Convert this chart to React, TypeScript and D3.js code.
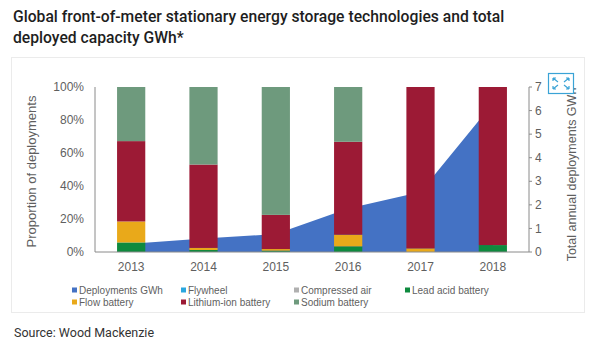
import React from "react";
import * as d3 from "d3";

// data
const years = ["2013", "2014", "2015", "2016", "2017", "2018"];
const deploymentsGWh = [0.35, 0.57, 0.76, 1.85, 2.55, 6.3];
const leadAcid = [5.8, 1.2, 0.8, 3.4, 0, 4.2];
const flowBattery = [12.7, 1.3, 1.0, 7.1, 2.2, 0];
const flywheel = [0, 0, 0, 0, 0, 0];
const compressedAir = [0, 0, 0, 0, 0, 0];
const lithiumIon = [48.7, 50.5, 20.7, 56.3, 97.8, 95.8];
const sodium = [32.8, 47, 77.5, 33.2, 0, 0];

const pctTicks = [0, 20, 40, 60, 80, 100];
const gwhTicks = [0, 1, 2, 3, 4, 5, 6, 7];

const seriesKeys = ["lead", "flow", "flywheel", "compressed", "liion", "sodium"];
const colors: Record<string, string> = {
  deployments: "#4472c4",
  lead: "#0e8a3e",
  flow: "#e9a91a",
  flywheel: "#2aa7df",
  compressed: "#b0b0b0",
  liion: "#9c1a35",
  sodium: "#6e9a7d",
};

const legendItems = [
  { label: "Deployments GWh", key: "deployments" },
  { label: "Flywheel", key: "flywheel" },
  { label: "Compressed air", key: "compressed" },
  { label: "Lead acid battery", key: "lead" },
  { label: "Flow battery", key: "flow" },
  { label: "Lithium-ion battery", key: "liion" },
  { label: "Sodium battery", key: "sodium" },
];

export default function App() {
  const left = 95, right = 529, top = 87, bottom = 252;
  const chartFont = "'Liberation Sans', Arial, sans-serif";
  const axisColor = "#8a8a8a";
  const textColor = "#5f5f5f";

  const x = d3.scaleBand<string>().domain(years).range([left, right])
    .paddingInner(0.61).paddingOuter(0.305);
  const yPct = d3.scaleLinear().domain([0, 100]).range([bottom, top]);
  const yGwh = d3.scaleLinear().domain([0, 7]).range([bottom, top]);

  const rows = years.map((y, i) => ({
    year: y,
    lead: leadAcid[i],
    flow: flowBattery[i],
    flywheel: flywheel[i],
    compressed: compressedAir[i],
    liion: lithiumIon[i],
    sodium: sodium[i],
  }));
  const stacked = d3.stack<any>().keys(seriesKeys)(rows);

  const cx = (y: string) => x(y)! + x.bandwidth() / 2;
  const area = d3.area<number>()
    .x((_, i) => cx(years[i]))
    .y0(yGwh(0))
    .y1((d) => yGwh(d));

  const legendCols = [72, 181, 294, 405];
  const legendRows = [290, 302];

  return (
    <div style={{ position: "absolute", left: 0, top: 0 }}>
      <svg width={600} height={350} style={{ display: "block", background: "#fff" }}>
        <text x={13} y={22} fontFamily="Roboto, sans-serif" fontWeight={500} fontSize={15.7} fill="#1e1e1e">
          Global front-of-meter stationary energy storage technologies and total
        </text>
        <text x={13} y={43} fontFamily="Roboto, sans-serif" fontWeight={500} fontSize={15.7} fill="#1e1e1e">
          deployed capacity GWh*
        </text>

        <rect x={11.5} y={57.5} width={573} height={255} fill="#fff" stroke="#ebebeb" />

        {/* area of annual deployments */}
        <path d={area(deploymentsGWh)!} fill={colors.deployments} />

        {/* stacked proportion bars */}
        {stacked.map((s) => (
          <g key={s.key} fill={colors[s.key]}>
            {s.map((d, i) => {
              const h = yPct(d[0]) - yPct(d[1]);
              if (h <= 0) return null;
              return (
                <rect key={i} x={x(years[i])} y={yPct(d[1])} width={x.bandwidth()} height={h} />
              );
            })}
          </g>
        ))}

        {/* left axis */}
        <line x1={left} x2={left} y1={top} y2={bottom} stroke={axisColor} />
        {pctTicks.map((t) => (
          <text key={t} x={left - 11} y={yPct(t)} dy="0.35em" textAnchor="end"
            fontFamily={chartFont} fontSize={12} fill={textColor}>
            {t}%
          </text>
        ))}
        <text transform={`translate(36,${(top + bottom) / 2 + 2}) rotate(-90)`} textAnchor="middle"
          fontFamily={chartFont} fontSize={13} fill={textColor}>
          Proportion of deployments
        </text>

        {/* bottom axis */}
        <line x1={left} x2={right} y1={bottom} y2={bottom} stroke={axisColor} />
        {years.map((y) => (
          <text key={y} x={cx(y)} y={271} textAnchor="middle" fontFamily={chartFont} fontSize={12} fill={textColor}>
            {y}
          </text>
        ))}

        {/* right axis */}
        <line x1={right} x2={right} y1={top} y2={bottom} stroke={axisColor} />
        {gwhTicks.map((t) => (
          <g key={t}>
            <line x1={right} x2={right + 3} y1={yGwh(t)} y2={yGwh(t)} stroke={axisColor} />
            <text x={right + 6} y={yGwh(t)} dy="0.35em" fontFamily={chartFont} fontSize={12} fill={textColor}>
              {t}
            </text>
          </g>
        ))}
        <text transform={`translate(576,${(top + bottom) / 2 + 5}) rotate(-90)`} textAnchor="middle"
          fontFamily={chartFont} fontSize={12.5} fill={textColor}>
          Total annual deployments GWh
        </text>

        {/* expand icon */}
        <g stroke="#3aa3d6" fill="none" strokeWidth={1.2}>
          <rect x={548.5} y={73.5} width={25} height={20} fill="#fff" />
          <path d="M553,78 L558,82 M553,78 h3 M553,78 v3" />
          <path d="M569,78 L564,82 M569,78 h-3 M569,78 v3" />
          <path d="M553,89 L558,85 M553,89 h3 M553,89 v-3" />
          <path d="M569,89 L564,85 M569,89 h-3 M569,89 v-3" />
        </g>

        {/* legend */}
        {legendItems.map((it, i) => {
          const lx = legendCols[i % 4];
          const ly = legendRows[Math.floor(i / 4)];
          return (
            <g key={it.key}>
              <rect x={lx} y={ly - 2.5} width={5} height={5} fill={colors[it.key]} />
              <text x={lx + 7} y={ly} dy="0.35em" fontFamily={chartFont} fontSize={10} fill={textColor}>
                {it.label}
              </text>
            </g>
          );
        })}

        <text x={14} y={337} fontFamily="Roboto, sans-serif" fontSize={12.5} fill="#333">
          Source: Wood Mackenzie
        </text>
      </svg>
    </div>
  );
}
